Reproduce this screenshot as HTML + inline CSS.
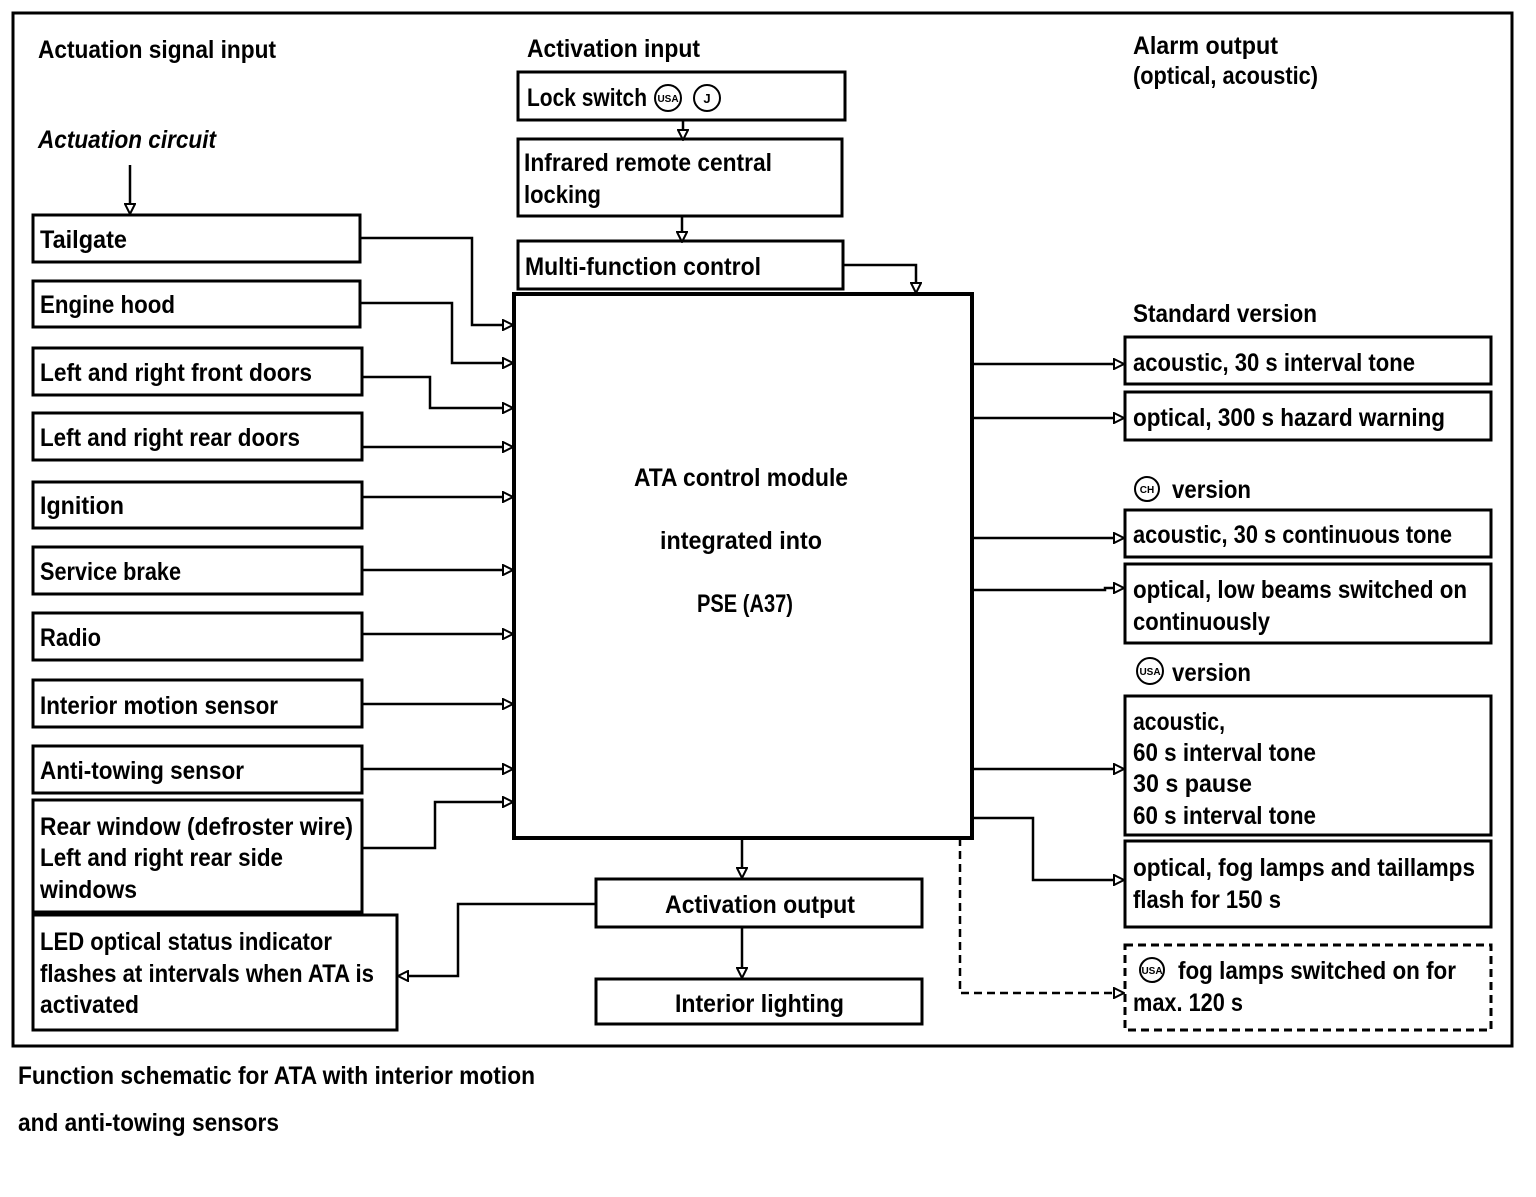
<!DOCTYPE html>
<html><head><meta charset="utf-8"><style>
html,body{margin:0;padding:0;background:#fff}
svg text{font-family:"Liberation Sans Narrow","Liberation Sans",sans-serif;font-weight:bold;fill:#000}
</style></head><body>
<svg width="1536" height="1192" viewBox="0 0 1536 1192" xmlns="http://www.w3.org/2000/svg" font-size="25">
<defs>
<marker id="a" markerWidth="12" markerHeight="12" refX="10" refY="6" orient="auto" markerUnits="userSpaceOnUse">
<path d="M1,1 L11,6 L1,11 Z" fill="#fff" stroke="#000" stroke-width="2"/></marker>
</defs>
<rect x="13" y="13" width="1499" height="1033" fill="none" stroke="#000" stroke-width="3"/>
<g fill="none" stroke="#000" stroke-width="3">
<rect x="33" y="215" width="327" height="47"/>
<rect x="33" y="281" width="327" height="46"/>
<rect x="33" y="348" width="329" height="47"/>
<rect x="33" y="413" width="329" height="47"/>
<rect x="33" y="482" width="329" height="46"/>
<rect x="33" y="547" width="329" height="47"/>
<rect x="33" y="613" width="329" height="47"/>
<rect x="33" y="680" width="329" height="47"/>
<rect x="33" y="746" width="329" height="47"/>
<rect x="33" y="800" width="329" height="112"/>
<rect x="33" y="915" width="364" height="115"/>
<rect x="514" y="294" width="458" height="544" stroke-width="4"/>
<rect x="518" y="72" width="327" height="48"/>
<rect x="518" y="139" width="324" height="77"/>
<rect x="518" y="241" width="325" height="48"/>
<rect x="596" y="879" width="326" height="48"/>
<rect x="596" y="979" width="326" height="45"/>
<rect x="1125" y="337" width="366" height="47"/>
<rect x="1125" y="392" width="366" height="48"/>
<rect x="1125" y="510" width="366" height="47"/>
<rect x="1125" y="564" width="366" height="79"/>
<rect x="1125" y="696" width="366" height="139"/>
<rect x="1125" y="841" width="366" height="86"/>
<rect x="1125" y="945" width="366" height="85" stroke-dasharray="8,5"/>
</g>
<g fill="none" stroke="#000" stroke-width="2.5">
<path d="M360 238 H472 V325 H512" marker-end="url(#a)"/>
<path d="M360 303 H452 V363 H512" marker-end="url(#a)"/>
<path d="M362 377 H430 V408 H512" marker-end="url(#a)"/>
<path d="M362 447 H512" marker-end="url(#a)"/>
<path d="M362 497 H512" marker-end="url(#a)"/>
<path d="M362 570 H512" marker-end="url(#a)"/>
<path d="M362 634 H512" marker-end="url(#a)"/>
<path d="M362 704 H512" marker-end="url(#a)"/>
<path d="M362 769 H512" marker-end="url(#a)"/>
<path d="M362 848 H435 V802 H512" marker-end="url(#a)"/>
<path d="M596 904 H458 V976 H399" marker-end="url(#a)"/>
<path d="M130 165 V213" marker-end="url(#a)"/>
<path d="M683 120 V139" marker-end="url(#a)"/>
<path d="M682 216 V241" marker-end="url(#a)"/>
<path d="M843 265 H916 V292" marker-end="url(#a)"/>
<path d="M742 838 V877" marker-end="url(#a)"/>
<path d="M742 927 V977" marker-end="url(#a)"/>
<path d="M972 364 H1123" marker-end="url(#a)"/>
<path d="M972 418 H1123" marker-end="url(#a)"/>
<path d="M972 538 H1123" marker-end="url(#a)"/>
<path d="M972 590 H1105 V588 H1123" marker-end="url(#a)"/>
<path d="M972 769 H1123" marker-end="url(#a)"/>
<path d="M972 818 H1033 V880 H1123" marker-end="url(#a)"/>
<path d="M960 838 V993 H1123" stroke-dasharray="8,5" marker-end="url(#a)"/>
</g>
<g fill="none" stroke="#000" stroke-width="2">
<circle cx="668" cy="98" r="13"/><circle cx="707" cy="98" r="13"/>
<circle cx="1147" cy="489" r="12"/><circle cx="1150" cy="671" r="13"/><circle cx="1152" cy="970" r="12"/>
</g>
<g lengthAdjust="spacingAndGlyphs">
<text x="38" y="58" textLength="238" lengthAdjust="spacingAndGlyphs">Actuation signal input</text>
<text x="38" y="148" font-style="italic" textLength="178" lengthAdjust="spacingAndGlyphs">Actuation circuit</text>
<text x="527" y="57" textLength="173" lengthAdjust="spacingAndGlyphs">Activation input</text>
<text x="1133" y="54" textLength="145" lengthAdjust="spacingAndGlyphs">Alarm output</text>
<text x="1133" y="84" textLength="185" lengthAdjust="spacingAndGlyphs">(optical, acoustic)</text>
<text x="40" y="248" textLength="87" lengthAdjust="spacingAndGlyphs">Tailgate</text>
<text x="40" y="313" textLength="135" lengthAdjust="spacingAndGlyphs">Engine hood</text>
<text x="40" y="381" textLength="272" lengthAdjust="spacingAndGlyphs">Left and right front doors</text>
<text x="40" y="446" textLength="260" lengthAdjust="spacingAndGlyphs">Left and right rear doors</text>
<text x="40" y="514" textLength="84" lengthAdjust="spacingAndGlyphs">Ignition</text>
<text x="40" y="580" textLength="141" lengthAdjust="spacingAndGlyphs">Service brake</text>
<text x="40" y="646" textLength="61" lengthAdjust="spacingAndGlyphs">Radio</text>
<text x="40" y="714" textLength="238" lengthAdjust="spacingAndGlyphs">Interior motion sensor</text>
<text x="40" y="779" textLength="204" lengthAdjust="spacingAndGlyphs">Anti-towing sensor</text>
<text x="40" y="835" textLength="313" lengthAdjust="spacingAndGlyphs">Rear window (defroster wire)</text>
<text x="40" y="866" textLength="243" lengthAdjust="spacingAndGlyphs">Left and right rear side</text>
<text x="40" y="898" textLength="97" lengthAdjust="spacingAndGlyphs">windows</text>
<text x="40" y="950" textLength="292" lengthAdjust="spacingAndGlyphs">LED optical status indicator</text>
<text x="40" y="982" textLength="334" lengthAdjust="spacingAndGlyphs">flashes at intervals when ATA is</text>
<text x="40" y="1013" textLength="99" lengthAdjust="spacingAndGlyphs">activated</text>
<text x="527" y="106" textLength="120" lengthAdjust="spacingAndGlyphs">Lock switch</text>
<text x="668" y="102" text-anchor="middle" style="font-size:10px">USA</text>
<text x="707" y="103" text-anchor="middle" style="font-size:13px">J</text>
<text x="524" y="171" textLength="248" lengthAdjust="spacingAndGlyphs">Infrared remote central</text>
<text x="524" y="203" textLength="77" lengthAdjust="spacingAndGlyphs">locking</text>
<text x="525" y="275" textLength="236" lengthAdjust="spacingAndGlyphs">Multi-function control</text>
<text x="634" y="486" textLength="214" lengthAdjust="spacingAndGlyphs">ATA control module</text>
<text x="660" y="549" textLength="162" lengthAdjust="spacingAndGlyphs">integrated into</text>
<text x="697" y="612" textLength="96" lengthAdjust="spacingAndGlyphs">PSE (A37)</text>
<text x="665" y="913" textLength="190" lengthAdjust="spacingAndGlyphs">Activation output</text>
<text x="675" y="1012" textLength="169" lengthAdjust="spacingAndGlyphs">Interior lighting</text>
<text x="1133" y="322" textLength="184" lengthAdjust="spacingAndGlyphs">Standard version</text>
<text x="1133" y="371" textLength="282" lengthAdjust="spacingAndGlyphs">acoustic, 30 s interval tone</text>
<text x="1133" y="426" textLength="312" lengthAdjust="spacingAndGlyphs">optical, 300 s hazard warning</text>
<text x="1147" y="493" text-anchor="middle" style="font-size:10px">CH</text>
<text x="1172" y="498" textLength="79" lengthAdjust="spacingAndGlyphs">version</text>
<text x="1133" y="543" textLength="319" lengthAdjust="spacingAndGlyphs">acoustic, 30 s continuous tone</text>
<text x="1133" y="598" textLength="334" lengthAdjust="spacingAndGlyphs">optical, low beams switched on</text>
<text x="1133" y="630" textLength="137" lengthAdjust="spacingAndGlyphs">continuously</text>
<text x="1150" y="675" text-anchor="middle" style="font-size:10px">USA</text>
<text x="1172" y="681" textLength="79" lengthAdjust="spacingAndGlyphs">version</text>
<text x="1133" y="730" textLength="92" lengthAdjust="spacingAndGlyphs">acoustic,</text>
<text x="1133" y="761" textLength="183" lengthAdjust="spacingAndGlyphs">60 s interval tone</text>
<text x="1133" y="792" textLength="119" lengthAdjust="spacingAndGlyphs">30 s pause</text>
<text x="1133" y="824" textLength="183" lengthAdjust="spacingAndGlyphs">60 s interval tone</text>
<text x="1133" y="876" textLength="342" lengthAdjust="spacingAndGlyphs">optical, fog lamps and taillamps</text>
<text x="1133" y="908" textLength="148" lengthAdjust="spacingAndGlyphs">flash for 150 s</text>
<text x="1152" y="974" text-anchor="middle" style="font-size:10px">USA</text>
<text x="1178" y="979" textLength="278" lengthAdjust="spacingAndGlyphs">fog lamps switched on for</text>
<text x="1133" y="1011" textLength="110" lengthAdjust="spacingAndGlyphs">max. 120 s</text>
<text x="18" y="1084" textLength="517" lengthAdjust="spacingAndGlyphs">Function schematic for ATA with interior motion</text>
<text x="18" y="1131" textLength="261" lengthAdjust="spacingAndGlyphs">and anti-towing sensors</text>
</g>
</svg>
</body></html>
